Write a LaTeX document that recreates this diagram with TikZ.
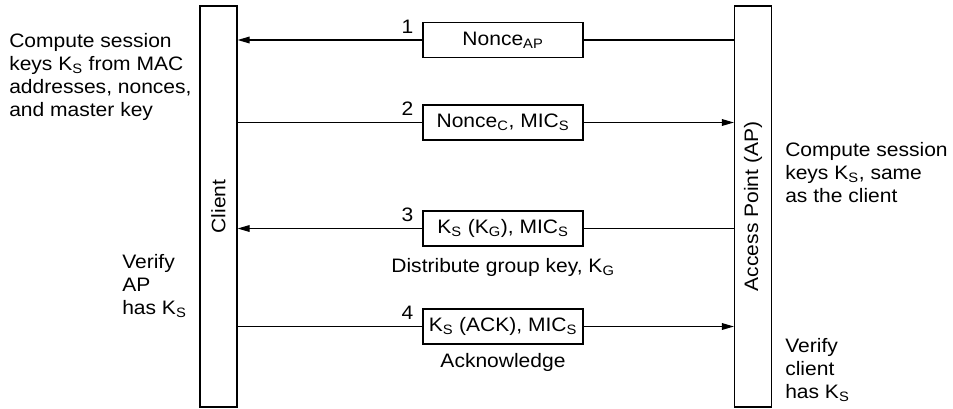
\documentclass[tikz,border=0pt]{standalone}
\usepackage{fontspec}
\setmainfont{Liberation Sans}[FakeStretch=1.08]
\usepackage{tikz}
\usetikzlibrary{arrows.meta, positioning, calc}
\newcommand{\KS}{K\textsubscript{S}}
\newcommand{\KG}{K\textsubscript{G}}

\begin{document}
\begin{tikzpicture}[
    x=0.75pt, y=-0.75pt,
    font=\fontsize{14.6}{17.25}\selectfont,
    lifeline/.style={rectangle, draw=black, line width=0.9pt, minimum width=27.75pt, minimum height=300.75pt, inner sep=0pt},
    msgbox/.style={rectangle, draw=black, fill=white, line width=0.9pt, minimum width=120pt, minimum height=26.25pt, inner sep=0pt},
    note/.style={align=left, inner sep=0pt, anchor=north west},
    caption/.style={inner sep=0pt},
    plain/.style={line width=0.9pt},
    arrow/.style={-{Triangle[length=9pt, width=5pt]}, line width=0.9pt}
]
    \useasboundingbox (0,0) rectangle (953,408);

    % Stations
    \node (client) [lifeline] at (218.5,206.5) {\rotatebox{90}{Client}};
    \node (ap) [lifeline] at (753,206.5) {\rotatebox{90}{Access Point (AP)}};

    % Messages
    \node (m1) [msgbox] at (503,40) {Nonce\textsubscript{AP}};
    \node (m2) [msgbox] at (503,122.5) {Nonce\textsubscript{C}, MIC\textsubscript{S}};
    \node (m3) [msgbox] at (503,228.5) {\KS{} (\KG), MIC\textsubscript{S}};
    \node (m4) [msgbox] at (503,326.5) {\KS{} (ACK), MIC\textsubscript{S}};

    % Step numbers
    \node (n1) at ($(m1.west)+(-15,-13.5)$) {1};
    \node (n2) at ($(m2.west)+(-15,-13.5)$) {2};
    \node (n3) at ($(m3.west)+(-15,-13.5)$) {3};
    \node (n4) at ($(m4.west)+(-15,-13.5)$) {4};

    % Captions
    \node (c3) [caption, below=9pt of m3] {Distribute group key, \KG};
    \node (c4) [caption, below=6.75pt of m4] {Acknowledge};

    % Notes
    \node (l1) [note] at (9,33) {Compute session\\keys \KS{} from MAC\\addresses, nonces,\\and master key};
    \node (l2) [note] at (122,254) {Verify\\AP\\has \KS};
    \node (r1) [note] at (785,142) {Compute session\\keys \KS, same\\as the client};
    \node (r2) [note] at (785,338) {Verify\\client\\has \KS};

    % Connections
    \draw [plain] (ap.west |- m1) -- (m1.east);
    \draw [arrow] (m1.west) -- (client.east |- m1);
    \draw [plain] (client.east |- m2) -- (m2.west);
    \draw [arrow] (m2.east) -- (ap.west |- m2);
    \draw [plain] (ap.west |- m3) -- (m3.east);
    \draw [arrow] (m3.west) -- (client.east |- m3);
    \draw [plain] (client.east |- m4) -- (m4.west);
    \draw [arrow] (m4.east) -- (ap.west |- m4);
\end{tikzpicture}
\end{document}
